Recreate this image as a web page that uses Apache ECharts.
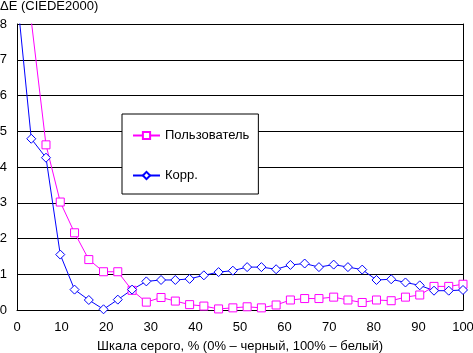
<!DOCTYPE html>
<html>
<head>
<meta charset="utf-8">
<script src="https://cdn.jsdelivr.net/npm/echarts@6/dist/echarts.min.js"></script>
<style>
  html, body { margin: 0; padding: 0; background: #fff; }
  #chart { width: 473px; height: 353px; }
</style>
</head>
<body>
<div id="chart"></div>
<script>
const grayLevels = [0, 3.2, 6.5, 9.7, 12.9, 16.1, 19.4, 22.6, 25.8, 29.0, 32.3, 35.5, 38.7, 41.9, 45.2, 48.4,
  51.6, 54.8, 58.1, 61.3, 64.5, 67.7, 71.0, 74.2, 77.4, 80.6, 83.9, 87.1, 90.3, 93.5, 96.8, 100]
const userValues = [12, 8.1, 4.62, 3.02, 2.16, 1.41, 1.07, 1.07, 0.55, 0.22, 0.35, 0.25, 0.15, 0.11, 0.03, 0.06,
  0.09, 0.06, 0.14, 0.28, 0.32, 0.32, 0.36, 0.28, 0.21, 0.28, 0.26, 0.36, 0.42, 0.66, 0.66, 0.72]
const corrValues = [8.8, 4.79, 4.26, 1.55, 0.57, 0.28, 0.02, 0.29, 0.57, 0.80, 0.84, 0.84, 0.87, 0.97, 1.06, 1.10,
  1.20, 1.20, 1.14, 1.26, 1.30, 1.20, 1.27, 1.20, 1.13, 0.84, 0.86, 0.77, 0.69, 0.54, 0.54, 0.56]
const seriesNames = ['Пользователь', 'Корр.']

const font = 'Liberation Sans, Arial, sans-serif'
const chart = echarts.init(document.getElementById('chart'))

function pairs(values) {
  return grayLevels.map((x, i) => [x, values[i]])
}

chart.setOption({
  animation: false,
  backgroundColor: '#fff',
  textStyle: { fontFamily: font },
  title: {
    text: 'ΔE (CIEDE2000)',
    left: 0,
    top: 0,
    padding: 0,
    textStyle: { fontSize: 13, fontWeight: 'normal', color: '#000', fontFamily: font }
  },
  grid: { left: 17, top: 24, right: 10, bottom: 43, outerBoundsMode: 'none', containLabel: false },
  legend: {
    orient: 'vertical',
    left: 122,
    top: 114,
    padding: [15, 9, 12, 10],
    itemGap: 27,
    itemWidth: 27,
    itemHeight: 9,
    backgroundColor: '#fff',
    borderColor: '#000',
    borderWidth: 1,
    borderRadius: 0,
    textStyle: { fontSize: 13, color: '#000', fontFamily: font },
    data: seriesNames
  },
  xAxis: {
    type: 'value',
    min: 0,
    max: 100,
    interval: 10,
    name: 'Шкала серого, % (0% – черный, 100% – белый)',
    nameLocation: 'middle',
    nameGap: 30,
    nameTextStyle: { fontSize: 13, color: '#000', fontFamily: font },
    axisLine: { lineStyle: { color: '#000', width: 1 } },
    axisTick: { show: false },
    axisLabel: { fontSize: 13, color: '#000', margin: 11, fontFamily: font },
    splitLine: { show: false }
  },
  yAxis: [{
    type: 'value',
    min: 0,
    max: 8,
    interval: 1,
    axisLine: { show: true, lineStyle: { color: '#000', width: 1 } },
    axisTick: { show: false },
    axisLabel: { fontSize: 13, color: '#000', margin: 10, fontFamily: font },
    splitLine: { lineStyle: { color: '#000', width: 1 } }
  }, {
    type: 'value',
    position: 'right',
    min: 0,
    max: 8,
    interval: 1,
    axisLine: { show: true, lineStyle: { color: '#000', width: 1 } },
    axisTick: { show: false },
    axisLabel: { show: false },
    splitLine: { show: false }
  }],
  series: [{
    name: seriesNames[0],
    type: 'line',
    data: pairs(userValues),
    color: '#ff00ff',
    symbol: 'rect',
    symbolSize: 8,
    showAllSymbol: true,
    clip: true,
    lineStyle: { color: '#ff00ff', width: 1 },
    itemStyle: { color: '#fff', borderColor: '#ff00ff', borderWidth: 1 }
  }, {
    name: seriesNames[1],
    type: 'line',
    data: pairs(corrValues),
    color: '#0000ff',
    symbol: 'diamond',
    symbolSize: 9,
    showAllSymbol: true,
    clip: true,
    lineStyle: { color: '#0000ff', width: 1 },
    itemStyle: { color: '#fff', borderColor: '#0000ff', borderWidth: 1 }
  }]
})
</script>
</body>
</html>
